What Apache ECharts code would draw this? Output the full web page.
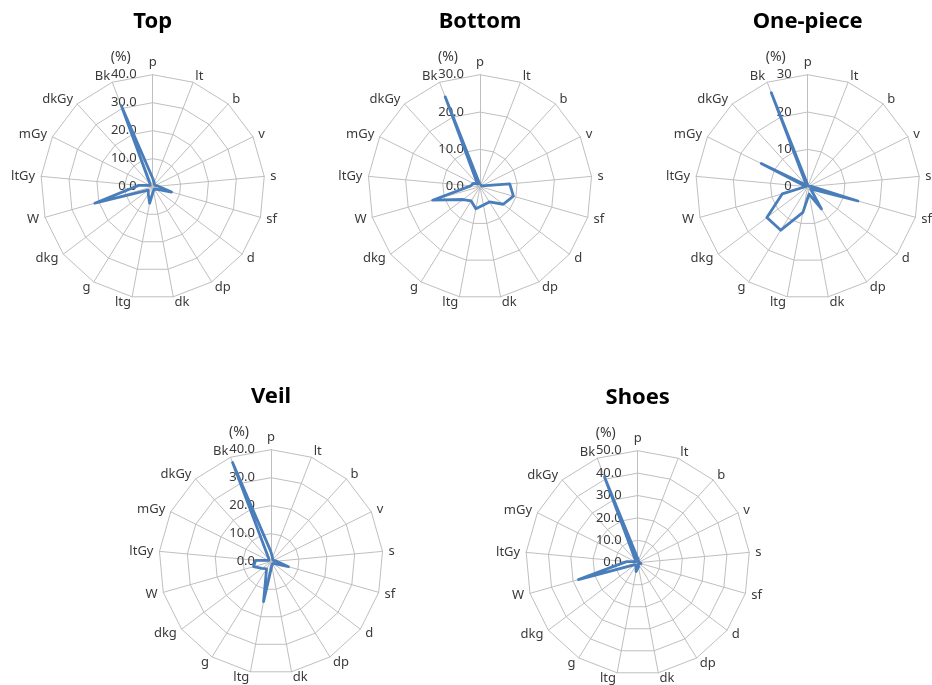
<!DOCTYPE html>
<html><head><meta charset="utf-8">
<script src="https://cdn.jsdelivr.net/npm/echarts@6/dist/echarts.min.js"></script>
<style>html,body{margin:0;padding:0;background:#fff}#c{width:932px;height:685px}</style>
</head><body><div id="c"></div>
<script>
// Categories in clockwise order starting at the top
const categories = ['p','lt','b','v','s','sf','d','dp','dk','ltg','g','dkg','W','ltGy','mGy','dkGy','Bk'];
const chartNames = ['Top','Bottom','One-piece','Veil','Shoes'];
const topValues      = [3, 1.5, 1, 1, 2, 7, 1.5, 1, 1.5, 6, 3, 2, 21.5, 5, 1, 1.5, 31];
const bottomValues   = [0.5, 0.5, 0.5, 0.5, 8, 9.3, 7.8, 4.8, 5, 6, 4.5, 5.7, 13.2, 2.5, 2, 1, 25.8];
const onePieceValues = [0.5, 0.3, 0.3, 0.3, 1, 14, 1, 7, 2, 7, 13.7, 13.7, 7.1, 0.5, 13.9, 0.5, 27];
const veilValues     = [3.5, 1.5, 1, 1, 2, 6.5, 1, 1, 1.5, 14.5, 3, 4, 6.5, 5.5, 1, 1, 38];
const shoesValues    = [2, 1, 0.5, 0.5, 1, 1.5, 0.5, 0.5, 2, 4, 1.5, 1.5, 27.5, 5, 1, 1.5, 41];
const allValues = [topValues, bottomValues, onePieceValues, veilValues, shoesValues];
const axisMax = [40, 30, 30, 40, 50];
const tickDecimals = [1, 1, 0, 1, 1];
const unitLabel = '(%)';

// layout (not data)
const centers = [[152.7,186.7],[480,186.7],[807.7,186.7],[271,561.7],[637.7,562.7]];
const R = 112;
const FONT = '"Noto Sans", "Open Sans", sans-serif';

// ECharts radar runs counter-clockwise; reorder so the picture runs clockwise
function ccw(arr){ return [arr[0]].concat(arr.slice(1).reverse()); }
const catOrder = ccw(categories);

const radar = chartNames.map((n, i) => ({
  center: centers[i], radius: R, startAngle: 90, shape: 'polygon',
  splitNumber: axisMax[i] / 10,
  nameGap: 6,
  axisName: { color: '#3a3a3a', fontSize: 13, fontFamily: FONT },
  indicator: catOrder.map((c, j) => {
    const o = { name: c, min: 0, max: axisMax[i] };
    if (j === 0) o.axisLabel = { show: true };
    return o;
  }),
  splitLine: { lineStyle: { color: '#bfbfbf', width: 1 } },
  splitArea: { show: false },
  axisLine: { lineStyle: { color: '#bfbfbf', width: 1 } },
  axisTick: { show: false },
  axisLabel: {
    show: false, color: '#3a3a3a', fontSize: 13, fontFamily: FONT, margin: 16,
    formatter: v => Number(v).toFixed(tickDecimals[i])
  }
}));

const series = chartNames.map((n, i) => ({
  type: 'radar', radarIndex: i, symbol: 'none', silent: true,
  lineStyle: { color: '#4a7ebb', width: 2.8 },
  data: [{ name: n, value: ccw(allValues[i]) }]
}));

const graphic = [];
chartNames.forEach((n, i) => {
  const [cx, cy] = centers[i];
  graphic.push({ type: 'text', x: cx, y: cy - 165, style: { text: n, align: 'center', verticalAlign: 'middle', font: 'bold 22px ' + FONT, fill: '#000' } });
  graphic.push({ type: 'text', x: cx - 32, y: cy - 130, style: { text: unitLabel, align: 'center', verticalAlign: 'middle', font: '14px ' + FONT, fill: '#3a3a3a' } });
});

const chart = echarts.init(document.getElementById('c'));
chart.setOption({ animation: false, backgroundColor: '#fff', radar, series, graphic });
</script></body></html>
